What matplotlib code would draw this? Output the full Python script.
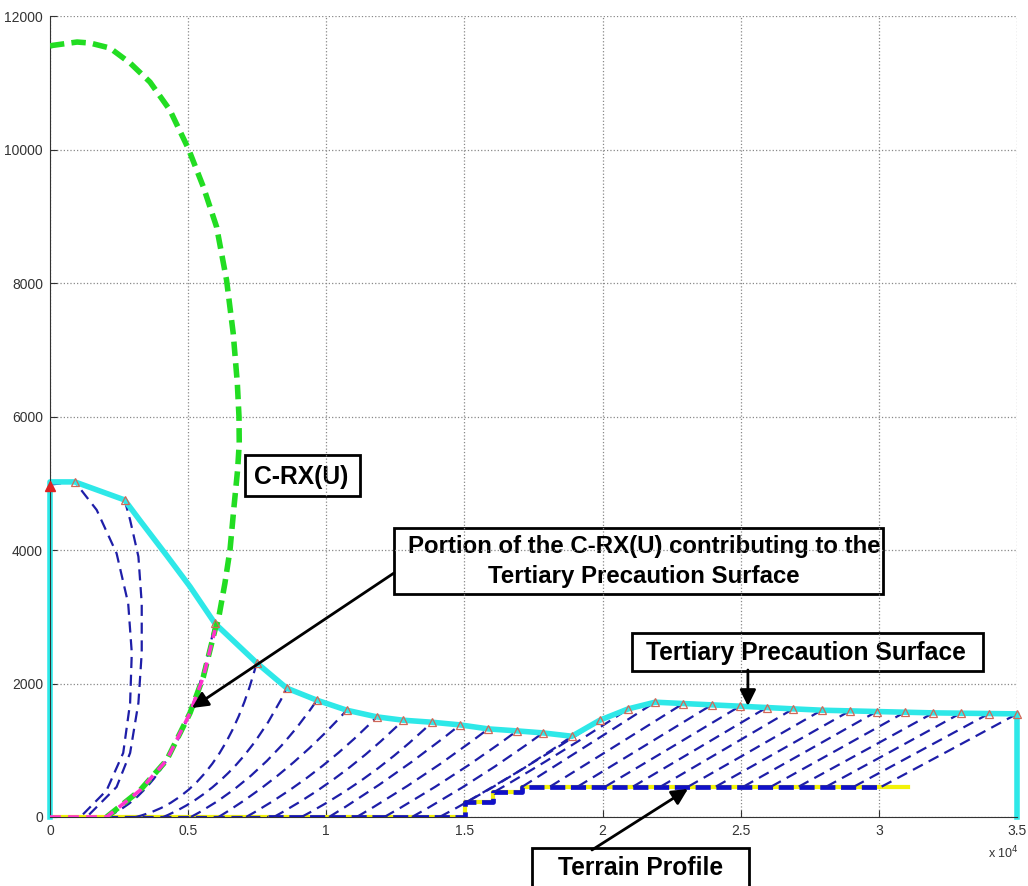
import numpy as np
import matplotlib.pyplot as plt
from matplotlib.path import Path
from matplotlib.patches import PathPatch, Rectangle

plt.rcParams['font.family'] = ['Liberation Sans', 'DejaVu Sans']

# C-RX(U) curve (green)
crx_x = [0, 100, 980, 1450, 2170, 2900, 3620, 4340, 5010, 5550, 6030, 6390, 6630, 6780, 6840,
         6850, 6790, 6660, 6515, 6330, 6090, 5970, 5550, 5070, 4220, 3260, 2050]
crx_y = [11550, 11560, 11610, 11595, 11520, 11295, 11010, 10590, 10010, 9440, 8840, 8045, 7250, 6500, 6000,
         5600, 5200, 4650, 4000, 3500, 2950, 2800, 2100, 1560, 850, 400, 0]

# portion of C-RX(U) contributing to the surface (magenta)
portion_x = [0, 2050, 3260, 4220, 5070, 5550, 5970]
portion_y = [0, 0, 400, 850, 1560, 2100, 2800]

# tertiary precaution surface (cyan)
surf_x = [0, 0, 900, 2700, 3260, 4220, 5070, 5970, 7480, 8570, 9660, 10740, 11830, 12780, 13820,
          14840, 15860, 16900, 17840, 18890, 19900, 20930, 21900, 22920, 23950, 24970, 25940,
          26900, 27930, 28950, 29920, 30940, 31970, 32960, 33990, 35000, 35000]
surf_y = [0, 5020, 5020, 4750, 4440, 3920, 3450, 2900, 2310, 1930, 1750, 1600, 1500, 1450, 1420,
          1380, 1320, 1290, 1260, 1210, 1450, 1620, 1720, 1700, 1680, 1660, 1640,
          1620, 1600, 1590, 1580, 1570, 1560, 1555, 1550, 1545, 0]

# terrain profile
terrain_x = [0, 15020, 15020, 16045, 16045, 17070, 17070, 31050]
terrain_y = [0, 0, 230, 230, 380, 380, 455, 455]
terrain_blue_x = [7900, 15020, 15020, 16045, 16045, 17070, 17070, 30000]
terrain_blue_y = [0, 0, 230, 230, 380, 380, 455, 455]

# trajectories: ground point, control point, end point on the surface
traj_gx = [2050, 3100, 4100, 5100, 6100, 7100, 8100, 9100, 10100, 11100, 12100, 13100, 14100,
           15100, 16100, 17100, 18100, 19100, 20100, 21100, 22100, 23100, 24100, 25100, 26100,
           27100, 28100, 29100, 30100]
traj_gy = [0, 0, 0, 0, 0, 0, 0, 0, 0, 0, 0, 0, 0,
           230, 380, 455, 455, 455, 455, 455, 455, 455, 455, 455, 455, 455, 455, 455, 455]
traj_cx = [4790, 6200, 6870, 7750, 8650, 9700, 10670, 11700, 12560, 13580, 14600, 15560, 16590,
           17500, 18520, 19500, 20510, 21520, 22540, 23520, 24500, 25520, 26530, 27510, 28520,
           29540, 30530, 31540, 32550]
traj_cy = [500, 300, 480, 580, 640, 600, 580, 570, 620, 595, 580, 565, 545,
           800, 960, 1085, 1075, 1065, 1055, 1045, 1035, 1025, 1020, 1015, 1010, 1005, 1000, 1000, 995]
traj_tx = surf_x[7:-1]
traj_ty = surf_y[7:-1]

# the two early arcs
arc_a_x = [0, 900, 1690, 2410, 2830, 2960, 2900, 2650, 2050, 1100]
arc_a_y = [4980, 5020, 4600, 3950, 3200, 2460, 1710, 960, 400, 0]
arc_b_x = [2700, 2900, 3200, 3320, 3320, 3200, 2900, 2410, 1330]
arc_b_y = [4750, 4450, 3900, 3200, 2460, 1710, 960, 450, 0]

marker_x = [900, 2700] + traj_tx
marker_y = [5020, 4750] + traj_ty

xticks = [0, 5000, 10000, 15000, 20000, 25000, 30000, 35000]
xtick_labels = ['0', '0.5', '1', '1.5', '2', '2.5', '3', '3.5']
yticks = [0, 2000, 4000, 6000, 8000, 10000, 12000]

BLUE = '#1e1ea8'
W, H = 1028, 886


def px(x, y):
    return x / W, 1 - y / H


fig = plt.figure(figsize=(W / 100, H / 100), dpi=100)
ax = fig.add_axes([50 / W, 69 / H, 967 / W, 801 / H])

ax.plot(terrain_x, terrain_y, color='#f2f20a', lw=3, zorder=2)
ax.plot(terrain_blue_x, terrain_blue_y, color='#1010c8', lw=3.4, dashes=(3.2, 1.2), zorder=2.1)
ax.plot([2050, 7900], [0, 0], color=BLUE, lw=1.6, dashes=(5, 3), zorder=2.1)

for gx, gy, cx, cy, tx, ty in zip(traj_gx, traj_gy, traj_cx, traj_cy, traj_tx, traj_ty):
    path = Path([(gx, gy), (cx, cy), (tx, ty)], [Path.MOVETO, Path.CURVE3, Path.CURVE3])
    ax.add_patch(PathPatch(path, fill=False, edgecolor=BLUE, lw=1.6,
                           linestyle=(0, (5, 3)), zorder=2.2))

ax.plot(arc_a_x, arc_a_y, color=BLUE, lw=1.6, dashes=(5, 3), zorder=2.2)
ax.plot(arc_b_x, arc_b_y, color=BLUE, lw=1.6, dashes=(5, 3), zorder=2.2)

ax.plot(surf_x, surf_y, color='#2ee8e8', lw=4, solid_joinstyle='round', zorder=2.5, clip_on=False)
ax.plot(crx_x, crx_y, color='#22dd22', lw=4, dashes=(2.6, 1.3), zorder=2.6)
ax.plot(portion_x, portion_y, color='#ff33cc', lw=2.6, dashes=(3, 2), zorder=2.7)

ax.plot(marker_x, marker_y, ls='none', marker='^', ms=5.5, mfc='none', mec='#d06858', mew=0.9,
        zorder=3, clip_on=False)
ax.plot([0], [4960], ls='none', marker='^', ms=7, color='#dd2222', zorder=3, clip_on=False)

ax.set_xlim(0, 35000)
ax.set_ylim(0, 12000)
ax.set_xticks(xticks)
ax.set_xticklabels(xtick_labels)
ax.set_yticks(yticks)
ax.grid(True, ls=':', color='#888888', lw=0.9)
for side in ['top', 'right']:
    ax.spines[side].set_visible(False)
for side in ['left', 'bottom']:
    ax.spines[side].set_color('#333333')
ax.tick_params(direction='in', length=5, color='#333333', labelcolor='#333333',
               labelsize=10, pad=5)

fig.text(1003 / W, 1 - 853 / H, 'x 10$^4$', fontsize=9, color='#333333',
         ha='center', va='center')

# annotation boxes (pixel layout), drawn under the grid like the original
boxes = [(245, 455, 360, 496), (394, 528, 883, 594), (632, 633, 983, 671), (532, 848, 749, 900)]
for x0, y0, x1, y1 in boxes:
    ax.add_patch(Rectangle(px(x0, y1), (x1 - x0) / W, (y1 - y0) / H, transform=fig.transFigure,
                           fc='white', ec='black', lw=2, zorder=1, clip_on=False))

labels = [('C-RX(U)', 301, 484, 17.7),
          ('Portion of the C-RX(U) contributing to the', 644, 553.5, 17.3),
          ('Tertiary Precaution Surface', 644, 583.5, 17.3),
          ('Tertiary Precaution Surface', 806, 660, 17.7),
          ('Terrain Profile', 641, 875, 17.7)]
for s, x, y, size in labels:
    ax.text(*px(x, y), s, transform=fig.transFigure, ha='center', va='baseline',
            fontsize=size, fontweight='bold', zorder=1.1, clip_on=False)

arrow = dict(arrowstyle='-|>', color='black', lw=2, mutation_scale=24, shrinkA=0, shrinkB=0)
ax.annotate('', xy=(5140, 1633), xytext=(12450, 3655), arrowprops=arrow, zorder=5)
ax.annotate('', xy=(25260, 1663), xytext=(25260, 2202), arrowprops=arrow, zorder=5)
ax.annotate('', xy=(23090, 420), xytext=(19616, -494), arrowprops=arrow, zorder=5,
            annotation_clip=False)

fig.savefig('out.png', dpi=100)
